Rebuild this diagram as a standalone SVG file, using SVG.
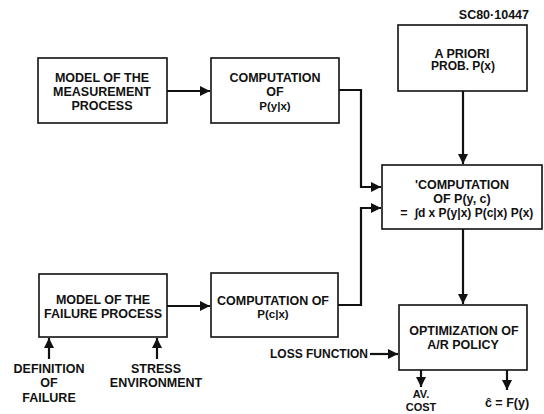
<svg xmlns="http://www.w3.org/2000/svg" width="544" height="414" viewBox="0 0 544 414">
<defs>
<style>
.box{fill:#fff;stroke:#111;stroke-width:1.6}
.t{font-family:"Liberation Sans",Arial,sans-serif;font-weight:bold;font-size:12.5px;fill:#111;text-anchor:middle}
.c{fill:none;stroke:#111;stroke-width:2.2}
</style>
<marker id="ah" markerUnits="userSpaceOnUse" markerWidth="11" markerHeight="10" refX="10" refY="5" orient="auto">
<path d="M0,0 L10,5 L0,10 z" fill="#111"/>
</marker>
</defs>
<rect width="544" height="414" fill="#fff"/>
<text class="t" x="529" y="19" style="text-anchor:end;font-size:12.5px">SC80·10447</text>

<g id="connectors">
<path class="c" d="M167,91 H210" marker-end="url(#ah)"/>
<path class="c" d="M339,90 H361 V187 H381" marker-end="url(#ah)"/>
<path class="c" d="M338,305 H361 V208 H381" marker-end="url(#ah)"/>
<path class="c" d="M167,306 H210" marker-end="url(#ah)"/>
<path class="c" d="M463,91 V164" marker-end="url(#ah)"/>
<path class="c" d="M463,229 V304" marker-end="url(#ah)"/>
<path class="c" d="M370,354 H398" marker-end="url(#ah)"/>
<path class="c" d="M421,370 V387" marker-end="url(#ah)"/>
<path class="c" d="M507,370 V390" marker-end="url(#ah)"/>
<path class="c" d="M49,359 V338" marker-end="url(#ah)"/>
<path class="c" d="M157,359 V338" marker-end="url(#ah)"/>
</g>

<g id="measurement-model">
<rect class="box" x="38" y="58" width="129" height="65"/>
<text class="t" x="102" y="82">MODEL OF THE</text>
<text class="t" x="102" y="96">MEASUREMENT</text>
<text class="t" x="102" y="110">PROCESS</text>
</g>

<g id="computation-pyx">
<rect class="box" x="211" y="58" width="128" height="65"/>
<text class="t" x="275" y="82">COMPUTATION</text>
<text class="t" x="275" y="96">OF</text>
<text class="t" x="275" y="109.5" style="font-size:11.5px">P(y|x)</text>
</g>

<g id="a-priori">
<rect class="box" x="398" y="25" width="129" height="66"/>
<text class="t" x="462" y="57.5">A PRIORI</text>
<text class="t" x="463" y="70" style="font-size:12px">PROB. P(x)</text>
</g>

<g id="computation-pyc">
<rect class="box" x="382" y="165" width="160" height="64"/>
<text class="t" x="462" y="189">'COMPUTATION</text>
<text class="t" x="462" y="203">OF P(y, c)</text>
<text class="t" x="404" y="216.5">=</text>
<text class="t" x="474" y="216.5" style="font-size:12px">∫d x P(y|x) P(c|x) P(x)</text>
</g>

<g id="failure-model">
<rect class="box" x="39" y="274" width="128" height="63"/>
<text class="t" x="103" y="304">MODEL OF THE</text>
<text class="t" x="103" y="318">FAILURE PROCESS</text>
</g>

<g id="computation-pcx">
<rect class="box" x="211" y="273" width="127" height="64"/>
<text class="t" x="273" y="305">COMPUTATION OF</text>
<text class="t" x="273" y="318" style="font-size:11.5px">P(c|x)</text>
</g>

<g id="optimization">
<rect class="box" x="399" y="305" width="128" height="65"/>
<text class="t" x="464" y="335">OPTIMIZATION OF</text>
<text class="t" x="463" y="349">A/R POLICY</text>
</g>

<g id="definition-of-failure">
<text class="t" x="49" y="372.5">DEFINITION</text>
<text class="t" x="49" y="387">OF</text>
<text class="t" x="49" y="401.5">FAILURE</text>
</g>

<g id="stress-environment">
<text class="t" x="156" y="372.5">STRESS</text>
<text class="t" x="156" y="387">ENVIRONMENT</text>
</g>

<g id="loss-function">
<text class="t" x="368" y="358" style="text-anchor:end;font-size:12px">LOSS FUNCTION</text>
</g>

<g id="av-cost">
<text class="t" x="421" y="398" style="font-size:11px">AV.</text>
<text class="t" x="421" y="410.5" style="font-size:11px">COST</text>
</g>

<g id="c-hat">
<text class="t" x="507" y="407">ĉ = F(y)</text>
</g>
</svg>
